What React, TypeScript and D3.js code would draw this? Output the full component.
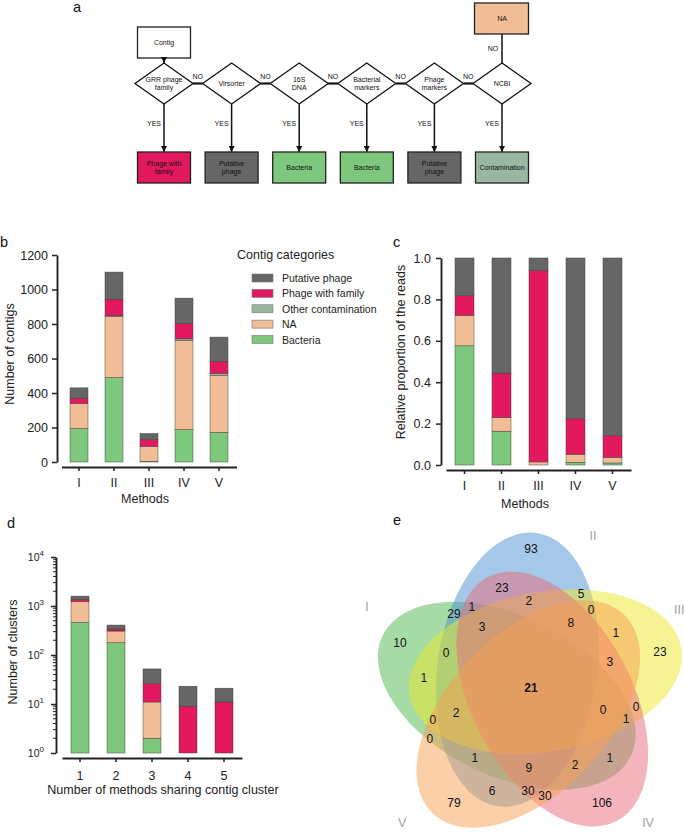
import { useEffect, useRef } from 'react';
import * as d3 from 'd3';

// ---- shared categories ----
const categories = ['Bacteria', 'NA', 'Other contamination', 'Phage with family', 'Putative phage'];
const categoryColors = ['#7dc87c', '#f0bd97', '#9ab7a2', '#e2195f', '#666666'];
const legendOrder = ['Putative phage', 'Phage with family', 'Other contamination', 'NA', 'Bacteria'];

// ---- panel b: number of contigs per method ----
const methods = ['I', 'II', 'III', 'IV', 'V'];
const contigBacteria = [194, 490, 4, 188, 172];
const contigNA = [145, 354, 87, 518, 329];
const contigOther = [0, 4, 0, 8, 12];
const contigPhage = [31, 95, 39, 89, 70];
const contigPutative = [60, 158, 35, 147, 141];
const contigTicks = [0, 200, 400, 600, 800, 1000, 1200];

// ---- panel c: relative proportion of reads ----
const readsBacteria = [0.576, 0.163, 0, 0.013, 0.01];
const readsNA = [0.147, 0.066, 0.015, 0.039, 0.027];
const readsOther = [0, 0, 0, 0, 0];
const readsPhage = [0.095, 0.215, 0.925, 0.172, 0.105];
const readsPutative = [0.182, 0.556, 0.06, 0.776, 0.858];
const readTicks = [0, 0.2, 0.4, 0.6, 0.8, 1.0];

// ---- panel d: clusters shared by n methods ----
const sharing = ['1', '2', '3', '4', '5'];
const clusterBacteria = [462, 178, 2, 0, 0];
const clusterNA = [778, 130, 9, 0, 0];
const clusterOther = [0, 0, 0, 0, 0];
const clusterPhage = [130, 31, 15, 9, 11];
const clusterPutative = [220, 69, 26, 14, 10];
const clusterExponents = [0, 1, 2, 3, 4];

// ---- panel a: flowchart ----
const decisions = [['GRR phage', 'family'], ['Virsorter'], ['16S', 'DNA'], ['Bacterial', 'markers'], ['Phage', 'markers'], ['NCBI']];
const outcomes = [['Phage with', 'family'], ['Putative', 'phage'], ['Bacteria'], ['Bacteria'], ['Putative', 'phage'], ['Contamination']];
const outcomeCats = ['Phage with family', 'Putative phage', 'Bacteria', 'Bacteria', 'Putative phage', 'Other contamination'];

// ---- panel e: five-set Venn ----
const vennSets = ['I', 'II', 'III', 'IV', 'V'];
const vennColors = ['#4db84d', '#4b91d1', '#ede729', '#e96979', '#f79f51'];
const vennCounts = [93, 23, 5, 2, 29, 1, 0, 3, 8, 10, 1, 0, 23, 3, 1, 21, 2, 0, 0, 0, 1, 0, 1, 1, 9, 2, 6, 30, 30, 79, 106];

// label anchors in the venn's own unit space (centre = 0,0)
const vennLabelXY = [
  [0.007, -0.94], [-0.187, -0.68], [0.34, -0.64], [-0.007, -0.593], [-0.507, -0.507],
  [-0.387, -0.553], [0.407, -0.533], [-0.32, -0.42], [0.273, -0.447], [-0.867, -0.313],
  [0.573, -0.38], [-0.56, -0.247], [0.867, -0.253], [0.533, -0.187], [-0.707, -0.08],
  [0.007, -0.013], [-0.493, 0.153], [0.487, 0.133], [0.707, 0.113], [-0.647, 0.2],
  [0.64, 0.193], [-0.667, 0.327], [-0.367, 0.453], [0.533, 0.453], [-0.007, 0.52],
  [0.3, 0.5], [-0.253, 0.673], [-0.013, 0.673], [0.1, 0.707], [-0.507, 0.753],
  [0.48, 0.753],
];
const vennSetLabelXY = [[-1.087, -0.553], [0.42, -1.027], [0.96, -0.533], [0.787, 0.887], [-0.853, 0.887]];

const FONT = '"Liberation Sans", Arial, Helvetica, sans-serif';

export default function App() {
  const ref = useRef<SVGSVGElement>(null);

  useEffect(() => {
    const svg = d3.select(ref.current).attr('font-family', FONT);
    svg.selectAll('*').remove();

    const color = d3.scaleOrdinal<string, string>().domain(categories).range(categoryColors);

    // panel letters
    const letters: [string, number, number][] = [['a', 73, 12], ['b', 0, 247], ['c', 393, 247], ['d', 7, 528], ['e', 393, 525]];
    svg.selectAll('text.letter').data(letters).join('text')
      .attr('class', 'letter')
      .attr('x', d => d[1]).attr('y', d => d[2])
      .attr('font-size', 14.5).attr('fill', '#111')
      .text(d => d[0]);

    // ================= a: flowchart =================
    const defs = svg.append('defs');
    defs.append('marker').attr('id', 'arr').attr('viewBox', '0 0 10 10')
      .attr('refX', 10).attr('refY', 5).attr('markerWidth', 4).attr('markerHeight', 4)
      .attr('orient', 'auto')
      .append('path').attr('d', 'M0,0L10,5L0,10z').attr('fill', '#111');

    const fa = svg.append('g').attr('font-size', 7).attr('fill', '#111');
    const fx = d3.scalePoint<string>().domain(decisions.map(d => d.join(' '))).range([164, 502]);
    const xs = decisions.map(d => fx(d.join(' ')) as number);
    const dy = 83.5, dw = 29, dh = 20.5;
    const bw = 53, bh = 31, btop = 152;

    const multiline = (g: any, x: number, y: number, arr: string[], fill = '#111') => {
      const t = g.append('text').attr('x', x).attr('y', y).attr('text-anchor', 'middle').attr('fill', fill);
      arr.forEach((s, i) => t.append('tspan').attr('x', x)
        .attr('dy', i === 0 ? `${0.35 - (arr.length - 1) * 0.6}em` : '1.2em').text(s));
    };

    // NO connectors
    for (let i = 0; i < xs.length - 1; i++) {
      fa.append('line').attr('x1', xs[i] + dw).attr('x2', xs[i + 1] - dw)
        .attr('y1', dy).attr('y2', dy).attr('stroke', '#111').attr('stroke-width', 2.2);
      fa.append('text').attr('x', (xs[i] + xs[i + 1]) / 2).attr('y', dy - 5)
        .attr('text-anchor', 'middle').text('NO');
    }
    // YES arrows
    xs.forEach(x => {
      fa.append('line').attr('x1', x).attr('x2', x).attr('y1', dy + dh).attr('y2', btop)
        .attr('stroke', '#111').attr('stroke-width', 1.5).attr('marker-end', 'url(#arr)');
      fa.append('text').attr('x', x - 10).attr('y', 125.5).attr('text-anchor', 'middle').text('YES');
    });
    // diamonds
    decisions.forEach((d, i) => {
      const x = xs[i];
      fa.append('path')
        .attr('d', `M${x},${dy - dh}L${x + dw},${dy}L${x},${dy + dh}L${x - dw},${dy}Z`)
        .attr('fill', '#fff').attr('stroke', '#111').attr('stroke-width', 1.3);
      multiline(fa, x, dy, d);
    });
    // outcome boxes
    outcomes.forEach((o, i) => {
      const x = xs[i];
      fa.append('rect').attr('x', x - bw / 2).attr('y', btop).attr('width', bw).attr('height', bh)
        .attr('fill', color(outcomeCats[i])).attr('stroke', '#222').attr('stroke-width', 1.3);
      multiline(fa, x, btop + bh / 2, o);
    });
    // contig start box
    const x0 = xs[0];
    fa.append('rect').attr('x', x0 - bw / 2).attr('y', 27).attr('width', bw).attr('height', 31)
      .attr('fill', '#fff').attr('stroke', '#222').attr('stroke-width', 1.3);
    multiline(fa, x0, 42.5, ['Contig']);
    fa.append('line').attr('x1', x0).attr('x2', x0).attr('y1', 58).attr('y2', dy - dh)
      .attr('stroke', '#111').attr('stroke-width', 1.5).attr('marker-end', 'url(#arr)');
    // NA box
    const xl = xs[xs.length - 1];
    fa.append('line').attr('x1', xl).attr('x2', xl).attr('y1', dy - dh).attr('y2', 34)
      .attr('stroke', '#111').attr('stroke-width', 1.5);
    fa.append('text').attr('x', xl - 9).attr('y', 50.5).attr('text-anchor', 'middle').text('NO');
    fa.append('rect').attr('x', xl - bw / 2 - 1).attr('y', 3).attr('width', bw + 1).attr('height', 31)
      .attr('fill', color('NA')).attr('stroke', '#222').attr('stroke-width', 1.3);
    multiline(fa, xl, 18.5, ['NA']);

    // ================= stacked bar panels =================
    const drawStacked = (cfg: {
      labels: string[]; series: number[][]; xr: [number, number]; y: any; yAxisX: number; xAxisY: number;
      floor: number; padIn: number; padOut: number; xPad: number; yPad: number;
      ticks?: number[]; fmt?: (v: number) => string;
    }) => {
      const rows = cfg.labels.map((l, i) => {
        const r: any = { label: l };
        categories.forEach((c, k) => { r[c] = cfg.series[k][i]; });
        return r;
      });
      const layers = d3.stack<any>().keys(categories)(rows);
      const x = d3.scaleBand<string>().domain(cfg.labels).range(cfg.xr)
        .paddingInner(cfg.padIn).paddingOuter(cfg.padOut);
      const g = svg.append('g');
      const f = cfg.floor;
      g.selectAll('g.layer').data(layers).join('g')
        .attr('fill', d => color(d.key))
        .selectAll('rect').data(d => d.filter(s => s[1] > s[0])).join('rect')
        .attr('x', d => x(d.data.label) as number)
        .attr('width', x.bandwidth())
        .attr('y', d => cfg.y(Math.max(f, d[1])))
        .attr('height', d => Math.max(0, cfg.y(Math.max(f, d[0])) - cfg.y(Math.max(f, d[1]))))
        .attr('stroke', '#3a3a3a').attr('stroke-width', 0.6).attr('stroke-opacity', 0.75);

      const ya = g.append('g').attr('transform', `translate(${cfg.yAxisX},0)`)
        .call(d3.axisLeft(cfg.y).tickValues(cfg.ticks || []).tickFormat((cfg.fmt || (() => '')) as any)
          .tickSize(5).tickSizeOuter(0).tickPadding(cfg.yPad));
      ya.select('.domain').attr('stroke', '#222').attr('stroke-width', 1.9);
      ya.selectAll('.tick line').attr('stroke', '#222').attr('stroke-width', 1.5);
      ya.selectAll('.tick text').attr('font-size', 12.5).attr('fill', '#222').attr('font-family', FONT);

      const xa = g.append('g').attr('transform', `translate(0,${cfg.xAxisY})`)
        .call(d3.axisBottom(x).tickSize(4).tickSizeOuter(0).tickPadding(cfg.xPad));
      xa.select('.domain').attr('stroke', '#222').attr('stroke-width', 1.9);
      xa.selectAll('.tick line').attr('stroke', '#222').attr('stroke-width', 1.5);
      xa.selectAll('.tick text').attr('font-size', 12.5).attr('fill', '#222').attr('font-family', FONT);
      return g;
    };

    const title = (x: number, y: number, s: string, rot = false) => {
      svg.append('text')
        .attr('transform', rot ? `translate(${x},${y}) rotate(-90)` : `translate(${x},${y})`)
        .attr('text-anchor', 'middle').attr('dominant-baseline', 'central')
        .attr('font-size', 12.5).attr('fill', '#222').text(s);
    };

    // b
    const yb = d3.scaleLinear().domain([0, 1200]).range([462, 255]);
    drawStacked({
      labels: methods, series: [contigBacteria, contigNA, contigOther, contigPhage, contigPutative],
      xr: [61.5, 236.5], y: yb, yAxisX: 57, xAxisY: 467, floor: 0, padIn: 0.486, padOut: 0.243,
      xPad: 7, yPad: 4, ticks: contigTicks, fmt: d3.format('d'),
    });
    title(10, 354, 'Number of contigs', true);
    title(145, 499, 'Methods');

    // legend
    const lg = svg.append('g');
    lg.append('text').attr('x', 237).attr('y', 258.5).attr('font-size', 12.5).attr('fill', '#222').text('Contig categories');
    const ly = d3.scalePoint<string>().domain(legendOrder).range([278, 339.5]);
    legendOrder.forEach(k => {
      const y = ly(k) as number;
      lg.append('rect').attr('x', 252).attr('y', y - 4).attr('width', 21).attr('height', 8)
        .attr('fill', color(k)).attr('stroke', '#777').attr('stroke-width', 0.6);
      lg.append('text').attr('x', 282).attr('y', y).attr('dominant-baseline', 'central')
        .attr('font-size', 10.5).attr('fill', '#222').text(k);
    });

    // c
    const yc = d3.scaleLinear().domain([0, 1]).range([465, 258]);
    drawStacked({
      labels: methods, series: [readsBacteria, readsNA, readsOther, readsPhage, readsPutative],
      xr: [446, 631], y: yc, yAxisX: 441, xAxisY: 470, floor: 0, padIn: 0.486, padOut: 0.243,
      xPad: 7, yPad: 5, ticks: readTicks, fmt: d3.format('.1f'),
    });
    title(401, 352, 'Relative proportion of the reads', true);
    title(525, 504, 'Methods');

    // d
    const yd = d3.scaleLog().domain([1, 1e4]).range([753, 557]);
    const gd = drawStacked({
      labels: sharing, series: [clusterBacteria, clusterNA, clusterOther, clusterPhage, clusterPutative],
      xr: [62, 242], y: yd, yAxisX: 56, xAxisY: 758, floor: 1, padIn: 0.5, padOut: 0.25,
      xPad: 9, yPad: 4, ticks: clusterExponents.map(e => Math.pow(10, e)), fmt: () => '',
    });
    // minor log ticks
    const minors: number[] = [];
    clusterExponents.slice(0, -1).forEach(e => d3.range(2, 10).forEach(m => minors.push(m * Math.pow(10, e))));
    gd.selectAll('line.minor').data(minors).join('line').attr('class', 'minor')
      .attr('x1', 56).attr('x2', 53).attr('y1', d => yd(d)).attr('y2', d => yd(d))
      .attr('stroke', '#222').attr('stroke-width', 1);
    // 10^n labels
    clusterExponents.forEach(e => {
      const t = gd.append('text').attr('x', 44).attr('y', yd(Math.pow(10, e)) + 4)
        .attr('text-anchor', 'end').attr('font-size', 10.5).attr('fill', '#222');
      t.append('tspan').text('10');
      t.append('tspan').attr('dy', -5).attr('font-size', 8).text(String(e));
    });
    title(13, 652, 'Number of clusters', true);
    title(163, 790, 'Number of methods sharing contig cluster');

    // ================= e: Venn =================
    const vx = d3.scaleLinear().domain([-1, 1]).range([380, 680]);
    const vy = d3.scaleLinear().domain([-1, 1]).range([540, 840]);
    const A = 0.92, B = 0.533, D = 0.16;
    const ve = svg.append('g');
    vennSets.forEach((s, i) => {
      const phi = 206 + 72 * i;
      const off = ((phi - 40) * Math.PI) / 180;
      const cx = vx(D * Math.cos(off));
      const cy = vy(D * Math.sin(off));
      ve.append('ellipse').attr('cx', cx).attr('cy', cy)
        .attr('rx', vx(A) - vx(0)).attr('ry', vy(B) - vy(0))
        .attr('transform', `rotate(${phi % 360},${cx},${cy})`)
        .attr('fill', vennColors[i]).attr('fill-opacity', 0.5);
    });
    ve.selectAll('text.count').data(vennCounts).join('text').attr('class', 'count')
      .attr('x', (_, i) => vx(vennLabelXY[i][0])).attr('y', (_, i) => vy(vennLabelXY[i][1]))
      .attr('text-anchor', 'middle').attr('dominant-baseline', 'central')
      .attr('font-size', 12).attr('fill', '#111')
      .attr('font-weight', d => (d === 21 ? 'bold' : 'normal'))
      .text(d => d);
    ve.selectAll('text.set').data(vennSets).join('text').attr('class', 'set')
      .attr('x', (_, i) => vx(vennSetLabelXY[i][0])).attr('y', (_, i) => vy(vennSetLabelXY[i][1]))
      .attr('text-anchor', (_, i) => (i === 2 ? 'start' : 'middle')).attr('dominant-baseline', 'central')
      .attr('font-size', 12.5).attr('fill', '#a0a0a0')
      .text(d => d);
  }, []);

  return (
    <div style={{ position: 'absolute', left: 0, top: 0 }}>
      <svg ref={ref} width={685} height={834} />
    </div>
  );
}
